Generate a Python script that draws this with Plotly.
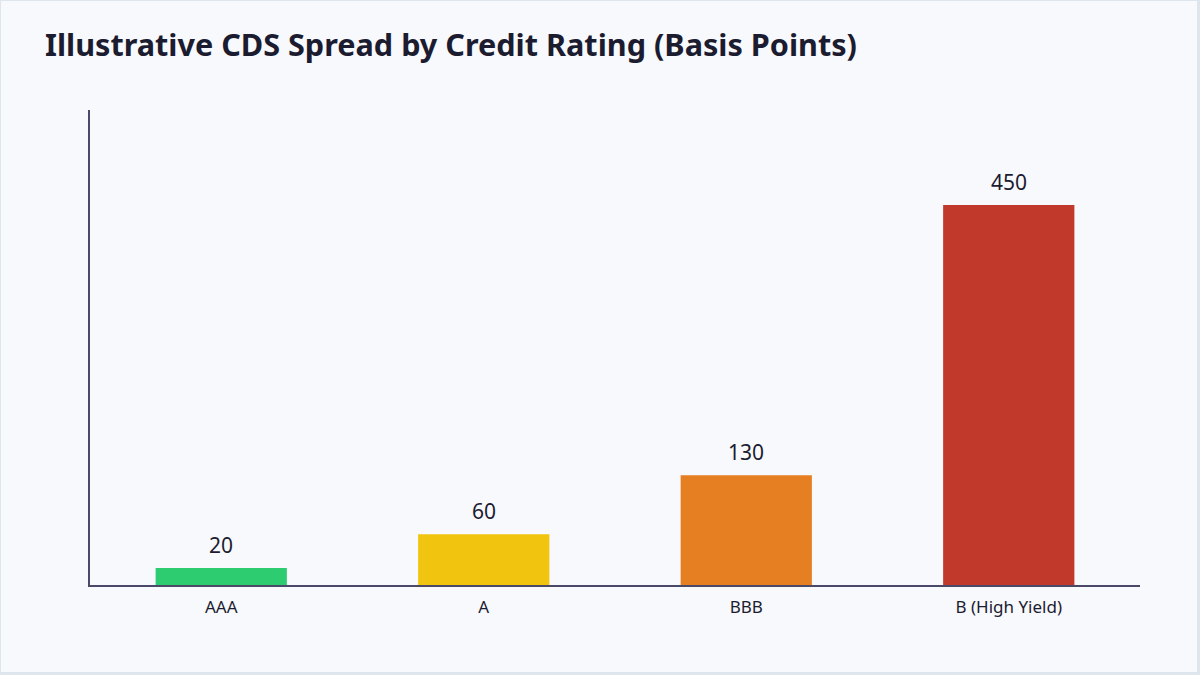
import plotly.graph_objects as go

ratings = ["AAA", "A", "BBB", "B (High Yield)"]
spreads = [20, 60, 130, 450]
bar_colors = ["#2ecc71", "#f1c40f", "#e67e22", "#c0392b"]

FONT = "Noto Sans"
W, H = 1200, 675
ML, MR, MT, MB = 90, 60, 110, 90
PW, PH = W - ML - MR, H - MT - MB

def px_x(p):
    return (p - ML) / PW

def px_y(p):
    return (H - MB - p) / PH

fig = go.Figure()
fig.add_trace(go.Bar(
    x=ratings, y=spreads,
    marker=dict(color=bar_colors, line=dict(width=0)),
    hoverinfo="skip",
))

for r, v in zip(ratings, spreads):
    fig.add_annotation(x=r, y=v, text=str(v), showarrow=False,
                       yanchor="bottom", yshift=7,
                       font=dict(family=FONT, size=21, color="#1c1c30"))

fig.add_shape(type="rect", xref="paper", yref="paper",
              x0=px_x(1), x1=px_x(1197), y0=px_y(672), y1=px_y(1),
              fillcolor="#f8f9fd", line=dict(width=0), layer="below")

fig.update_layout(
    width=W, height=H,
    margin=dict(l=ML, r=MR, t=MT, b=MB),
    paper_bgcolor="#dfe5ec",
    plot_bgcolor="rgba(0,0,0,0)",
    bargap=0.5,
    showlegend=False,
    title=dict(text="<b>Illustrative CDS Spread by Credit Rating (Basis Points)</b>",
               x=45 / W, xanchor="left", y=1 - 45 / H, yanchor="middle",
               font=dict(family=FONT, size=30.6, color="#1c1c30")),
    font=dict(family=FONT, color="#1c1c30"),
    xaxis=dict(showline=True, linecolor="#4a4a68", linewidth=2,
               showgrid=False, zeroline=False, ticks="", ticklabelstandoff=6,
               tickfont=dict(family=FONT, size=17, color="#1c1c30")),
    yaxis=dict(range=[0, 562.5], showline=True, linecolor="#4a4a68", linewidth=2,
               showgrid=False, zeroline=False, showticklabels=False, ticks=""),
)

fig.write_html("out.html", config={"displayModeBar": False},
               post_script="document.body.style.margin='0';")
